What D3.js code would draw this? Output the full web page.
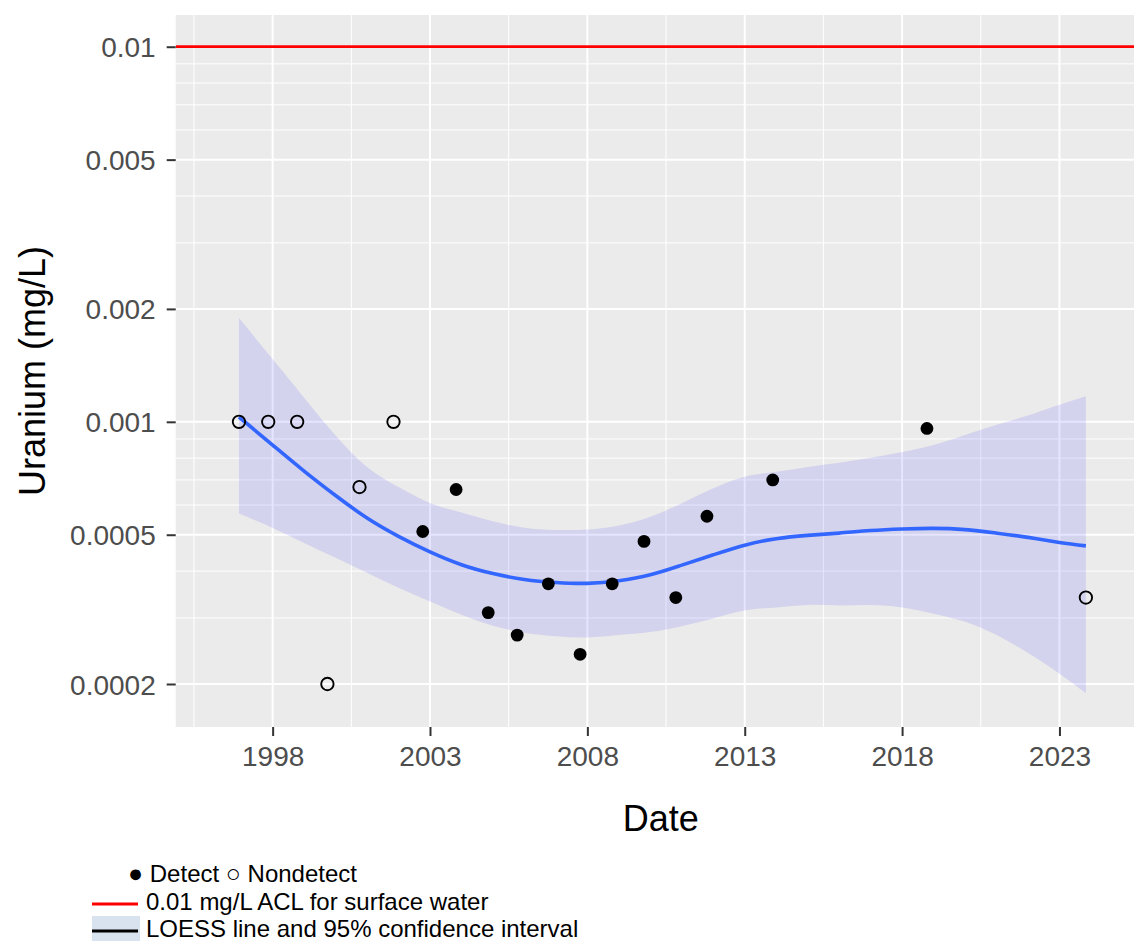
<!DOCTYPE html>
<html>
<head>
<meta charset="utf-8">
<script src="https://cdn.jsdelivr.net/npm/d3@7"></script>
<style>
  body { margin: 0; background: #fff; }
  svg { display: block; font-family: "Liberation Sans", Arial, sans-serif; }
</style>
</head>
<body>
<script>
// sample dates as decimal years, uranium in mg/L, detect flag
const sampleYears = [1996.93, 1997.86, 1998.78, 1999.74, 2000.76, 2001.84, 2002.77, 2003.83,
  2004.85, 2005.77, 2006.76, 2007.77, 2008.79, 2009.80, 2010.81, 2011.80, 2013.89, 2018.79, 2023.84];
const uranium = [0.001, 0.001, 0.001, 0.0002, 0.00067, 0.001, 0.00051, 0.00066,
  0.00031, 0.00027, 0.00037, 0.00024, 0.00037, 0.00048, 0.00034, 0.00056, 0.0007, 0.00096, 0.00034];
const detected = [false, false, false, false, false, false, true, true,
  true, true, true, true, true, true, true, true, true, true, false];

// LOESS fit and 95% band
const loessYears = [1996.93, 1998, 1999, 2000, 2001, 2002, 2003, 2004, 2005, 2006, 2007, 2008, 2009,
  2010, 2011, 2012, 2013, 2014, 2015, 2016, 2017, 2018, 2019, 2020, 2021, 2022, 2023, 2023.84];
const loessFit = [0.00103, 0.000867, 0.000739, 0.000636, 0.000554, 0.000495, 0.00045, 0.000416, 0.000394,
  0.00038, 0.000373, 0.000371, 0.000377, 0.000391, 0.000415, 0.000442, 0.000469, 0.000488, 0.000498,
  0.000505, 0.000513, 0.000518, 0.00052, 0.000516, 0.000505, 0.000492, 0.000477, 0.000467];
const loessUpper = [0.00189, 0.00147, 0.00116, 0.00092, 0.000758, 0.00067, 0.000608, 0.000573, 0.000543,
  0.000522, 0.000515, 0.000516, 0.000529, 0.000558, 0.000607, 0.000665, 0.000714, 0.000736, 0.000758,
  0.000778, 0.000802, 0.000831, 0.000867, 0.000922, 0.000982, 0.00104, 0.00111, 0.00117];
const loessLower = [0.00057, 0.000521, 0.000475, 0.000434, 0.000396, 0.000361, 0.000332, 0.000306, 0.000286,
  0.000274, 0.000268, 0.000266, 0.00027, 0.000275, 0.000285, 0.000299, 0.000314, 0.00032, 0.000325,
  0.000324, 0.000325, 0.00032, 0.000308, 0.000293, 0.00027, 0.000242, 0.000213, 0.000189];

const aclLimit = 0.01;

const yMajor = [0.0002, 0.0005, 0.001, 0.002, 0.005, 0.01];
const yMinor = [0.0003, 0.0004, 0.0006, 0.0007, 0.0008, 0.0009, 0.003, 0.004, 0.006, 0.007, 0.008, 0.009];
const xMajor = [1998, 2003, 2008, 2013, 2018, 2023];
const xMinor = [1995.5, 2000.5, 2005.5, 2010.5, 2015.5, 2020.5, 2025.5];

const svgWidth = 1134;
const svgHeight = 941;
const panel = { left: 175.7, right: 1146, top: 15, bottom: 727 };

const svg = d3.select('body').append('svg')
  .attr('width', svgWidth)
  .attr('height', svgHeight);

const x = d3.scaleLinear()
  .domain([1994.92, 2025.75])
  .range([panel.left, panel.right]);

const y = d3.scaleLog()
  .domain([0.0001536, 0.01215])
  .range([panel.bottom, panel.top]);

svg.append('clipPath').attr('id', 'clip')
  .append('rect')
  .attr('x', panel.left).attr('y', panel.top)
  .attr('width', panel.right - panel.left).attr('height', panel.bottom - panel.top);

svg.append('rect')
  .attr('x', panel.left).attr('y', panel.top)
  .attr('width', panel.right - panel.left).attr('height', panel.bottom - panel.top)
  .attr('fill', '#EBEBEB');

const plot = svg.append('g').attr('clip-path', 'url(#clip)');

// grid
plot.selectAll('.yminor').data(yMinor).enter().append('line')
  .attr('x1', panel.left).attr('x2', panel.right)
  .attr('y1', (d) => y(d)).attr('y2', (d) => y(d))
  .attr('stroke', '#fff').attr('stroke-width', 1);
plot.selectAll('.xminor').data(xMinor).enter().append('line')
  .attr('y1', panel.top).attr('y2', panel.bottom)
  .attr('x1', (d) => x(d)).attr('x2', (d) => x(d))
  .attr('stroke', '#fff').attr('stroke-width', 1);
plot.selectAll('.ymajor').data(yMajor).enter().append('line')
  .attr('x1', panel.left).attr('x2', panel.right)
  .attr('y1', (d) => y(d)).attr('y2', (d) => y(d))
  .attr('stroke', '#fff').attr('stroke-width', 2);
plot.selectAll('.xmajor').data(xMajor).enter().append('line')
  .attr('y1', panel.top).attr('y2', panel.bottom)
  .attr('x1', (d) => x(d)).attr('x2', (d) => x(d))
  .attr('stroke', '#fff').attr('stroke-width', 2);

// confidence band
const bandData = loessYears.map((yr, i) => ({ yr, lo: loessLower[i], hi: loessUpper[i] }));
plot.append('path')
  .datum(bandData)
  .attr('d', d3.area()
    .x((d) => x(d.yr))
    .y0((d) => y(d.lo))
    .y1((d) => y(d.hi))
    .curve(d3.curveNatural))
  .attr('fill', 'blue')
  .attr('fill-opacity', 0.1);

// ACL line
plot.append('line')
  .attr('x1', panel.left).attr('x2', panel.right)
  .attr('y1', y(aclLimit)).attr('y2', y(aclLimit))
  .attr('stroke', 'red').attr('stroke-width', 2.7);

// loess line
const fitData = loessYears.map((yr, i) => ({ yr, v: loessFit[i] }));
plot.append('path')
  .datum(fitData)
  .attr('d', d3.line()
    .x((d) => x(d.yr))
    .y((d) => y(d.v))
    .curve(d3.curveNatural))
  .attr('fill', 'none')
  .attr('stroke', '#3366FF')
  .attr('stroke-width', 3.6);

// points
const points = sampleYears.map((yr, i) => ({ yr, v: uranium[i], det: detected[i] }));
plot.selectAll('.pt').data(points).enter().append('circle')
  .attr('cx', (d) => x(d.yr))
  .attr('cy', (d) => y(d.v))
  .attr('r', (d) => d.det ? 6.4 : 6.2)
  .attr('fill', (d) => d.det ? '#000' : 'none')
  .attr('stroke', '#000')
  .attr('stroke-width', (d) => d.det ? 0 : 1.9);

// axes
const yAxis = svg.append('g')
  .attr('transform', `translate(${panel.left},0)`)
  .call(d3.axisLeft(y).tickValues(yMajor).tickFormat((d) => String(d)).tickSize(9).tickPadding(11));
const xAxis = svg.append('g')
  .attr('transform', `translate(0,${panel.bottom})`)
  .call(d3.axisBottom(x).tickValues(xMajor).tickFormat(d3.format('d')).tickSize(9).tickPadding(10));

[yAxis, xAxis].forEach((ax) => {
  ax.select('.domain').remove();
  ax.selectAll('.tick line').attr('stroke', '#333').attr('stroke-width', 2);
  ax.selectAll('.tick text')
    .attr('fill', '#4D4D4D')
    .style('font-size', '28px')
    .style('font-family', '"Liberation Sans", Arial, sans-serif');
});
yAxis.selectAll('.tick text').attr('dy', '0.36em');

// titles
svg.append('text')
  .attr('x', (panel.left + panel.right) / 2)
  .attr('y', 831)
  .attr('text-anchor', 'middle')
  .style('font-size', '36px')
  .text('Date');

svg.append('text')
  .attr('transform', `translate(45,${(panel.top + panel.bottom) / 2}) rotate(-90)`)
  .attr('text-anchor', 'middle')
  .style('font-size', '36px')
  .text('Uranium (mg/L)');

// legend
const legend = svg.append('g').style('font-size', '24px');
const row1 = legend.append('text').attr('x', 128).attr('y', 882);
row1.append('tspan').style('font-size', '25px').text('●');
row1.append('tspan').text(' Detect ');
row1.append('tspan').style('font-size', '25px').text('○');
row1.append('tspan').text(' Nondetect');

legend.append('line')
  .attr('x1', 92).attr('x2', 138).attr('y1', 904).attr('y2', 904)
  .attr('stroke', 'red').attr('stroke-width', 3);
legend.append('text').attr('x', 146).attr('y', 910).text('0.01 mg/L ACL for surface water');

legend.append('rect')
  .attr('x', 92).attr('y', 916).attr('width', 48).attr('height', 25)
  .attr('fill', '#D9E3F0');
legend.append('line')
  .attr('x1', 92).attr('x2', 138).attr('y1', 931).attr('y2', 931)
  .attr('stroke', '#000').attr('stroke-width', 3);
legend.append('text').attr('x', 146).attr('y', 937).text('LOESS line and 95% confidence interval');
</script>
</body>
</html>
